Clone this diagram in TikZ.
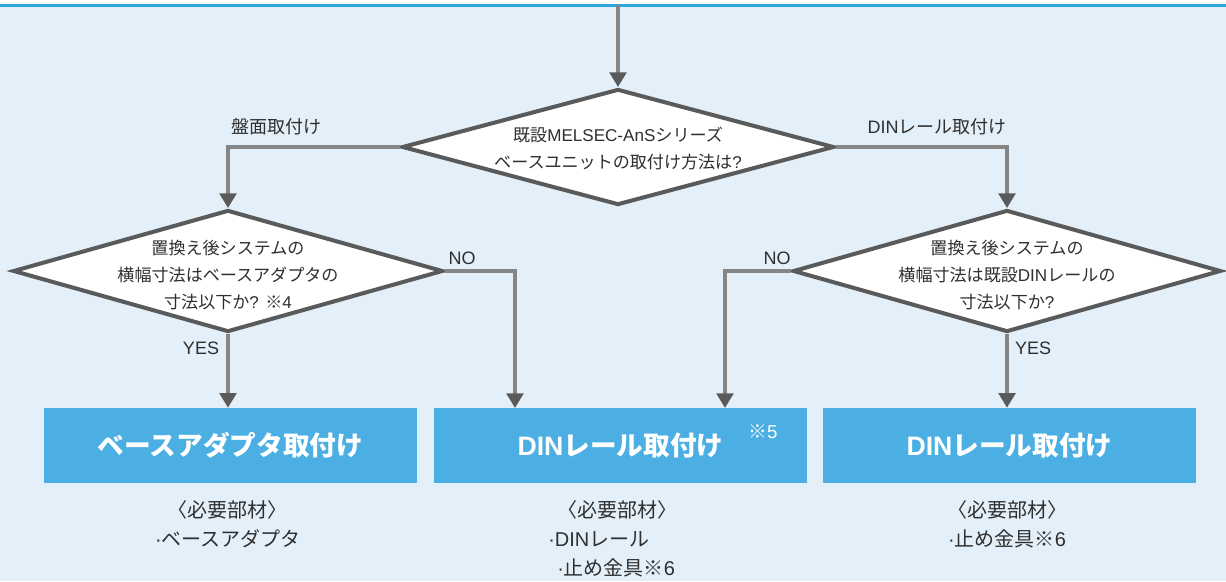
\documentclass[tikz,border=0pt]{standalone}
\usepackage{fontspec}
\setmainfont{Liberation Sans}
\newfontfamily\jpf{Noto Sans CJK JP}
\newfontfamily\latf{Liberation Sans}
\usetikzlibrary{shapes.geometric,arrows.meta}

% Japanese characters in Noto, the rest in Liberation Sans
\newXeTeXintercharclass\jpclass
\newcount\jpcnt
\def\setjprange#1#2{\jpcnt=#1\relax
	\loop\XeTeXcharclass\jpcnt=\jpclass\advance\jpcnt by 1\ifnum\jpcnt<#2\repeat}
\setjprange{"3000}{"3100}
\setjprange{"4E00}{"A000}
\setjprange{"FF00}{"FFF0}
\XeTeXcharclass"203B=\jpclass
\XeTeXinterchartoks 0 \jpclass={\jpf}
\XeTeXinterchartoks \jpclass 0={\latf}
\XeTeXinterchartoks 4095 \jpclass={\jpf}
\XeTeXinterchartokenstate=1

\definecolor{bgblue}{HTML}{E3F0FA}
\definecolor{topblue}{HTML}{29A8E0}
\definecolor{boxblue}{HTML}{4BAFE3}
\definecolor{linegray}{HTML}{858585}
\definecolor{linedark}{HTML}{5A5A5A}
\definecolor{txtgray}{HTML}{2F2F2F}

\begin{document}
\begin{tikzpicture}[x=0.75pt,y=-0.75pt,
	decision/.style={diamond,draw=linedark,line width=3pt,fill=white,inner sep=0pt},
	qtext/.style={align=center,text=txtgray,inner sep=0pt,font=\fontsize{12.8pt}{20.25pt}\selectfont},
	lbl/.style={text=txtgray,inner sep=0pt,font=\fontsize{13.5pt}{15pt}\selectfont},
	mount/.style={rectangle,fill=boxblue,minimum width=279.75pt,minimum height=56.25pt,text=white,font=\fontsize{20pt}{22pt}\selectfont\bfseries},
	parts/.style={text=txtgray,inner sep=0pt,font=\fontsize{15pt}{18pt}\selectfont},
	conn/.style={draw=linegray,line width=2.6pt,-{Triangle[width=12.5pt,length=11pt,color=linedark]}}]
	\useasboundingbox (0,0) rectangle (1226,581);
	\fill[bgblue] (0,5.5) rectangle (1226,581);
	\draw[topblue,line width=2.25pt] (0,5.5) -- (1226,5.5);
	
	% questions
	\node [decision,minimum width=324pt,minimum height=87pt] (q0) at (618,147) {};
	\node [qtext] (q0t) at (618,148.5) {既設MELSEC-AnSシリーズ\\ベースユニットの取付け方法は?};
	\node [decision,minimum width=322.5pt,minimum height=91.5pt] (q1) at (228,271) {};
	\node [qtext] (q1t) at (228,275) {置換え後システムの\\横幅寸法はベースアダプタの\\寸法以下か? ※4};
	\node [decision,minimum width=321pt,minimum height=91.5pt] (q2) at (1007,271) {};
	\node [qtext] (q2t) at (1007,275) {置換え後システムの\\横幅寸法は既設DINレールの\\寸法以下か?};
	
	% results
	\node [mount] (b1) at (230.5,445.5) {ベースアダプタ取付け};
	\node [mount] (b2) at (620.5,445.5) {DINレール取付け};
	\node [text=white,inner sep=0pt,font=\fontsize{14pt}{16pt}\selectfont] (b2n) at (763,432) {※5};
	\node [mount] (b3) at (1009.5,445.5) {DINレール取付け};
	
	% connectors
	\coordinate (start) at (618,5.5);
	\coordinate (b2l) at (515,408);
	\coordinate (b2r) at (725,408);
	\draw [conn] (start) -- (q0.north);
	\draw [conn] (q0.west) -| (q1.north);
	\draw [conn] (q0.east) -| (q2.north);
	\draw [conn] (q1.south) -- (q1.south |- b1.north);
	\draw [conn] (q1.east) -| (b2l);
	\draw [conn] (q2.west) -| (b2r);
	\draw [conn] (q2.south) -- (q2.south |- b3.north);
	
	% labels
	\node [lbl] (l0) at (276,127) {盤面取付け};
	\node [lbl] (r0) at (937,127) {DINレール取付け};
	\node [lbl] (l1no) at (462,258) {NO};
	\node [lbl] (l1yes) at (201,348) {YES};
	\node [lbl] (r1no) at (777,258) {NO};
	\node [lbl] (r1yes) at (1033,348) {YES};
	
	% parts
	\node [parts] (p1h) at (227,510) {〈必要部材〉};
	\node [parts] (p1a) at (228,539) {·ベースアダプタ};
	\node [parts] (p2h) at (617,510) {〈必要部材〉};
	\node [parts,anchor=west] (p2a) at (548,539) {·DINレール};
	\node [parts,anchor=west] (p2b) at (557,568) {·止め金具※6};
	\node [parts] (p3h) at (1007,510) {〈必要部材〉};
	\node [parts] (p3a) at (1007,539) {·止め金具※6};
\end{tikzpicture}
\end{document}
